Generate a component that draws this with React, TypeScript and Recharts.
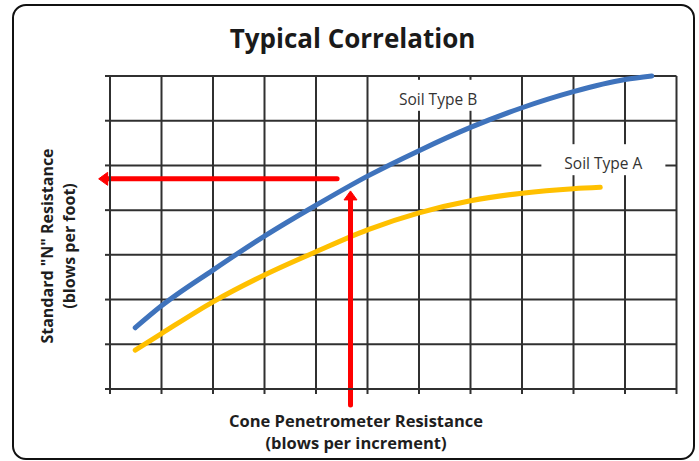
import React from 'react';
import { LineChart, Line, XAxis, YAxis, CartesianGrid, ReferenceLine, ReferenceDot, Label } from 'recharts';

// grid ticks (no numeric labels shown on the original)
const xTicks = [0, 1, 2, 3, 4, 5, 6, 7, 8, 9, 10, 11];
const yTicks = [0, 1, 2, 3, 4, 5, 6, 7];

// Soil Type B (blue)
const soilBX = [0.49, 1.0, 2.0, 3.0, 4.0, 5.0, 6.0, 7.0, 8.0, 9.0, 10.0, 10.52];
const soilBY = [1.37, 1.86, 2.66, 3.42, 4.11, 4.76, 5.33, 5.85, 6.29, 6.65, 6.92, 7.0];

// Soil Type A (yellow)
const soilAX = [0.49, 1.0, 2.0, 3.0, 4.0, 5.0, 6.0, 7.0, 8.0, 9.0, 9.52];
const soilAY = [0.87, 1.24, 1.95, 2.55, 3.07, 3.56, 3.94, 4.21, 4.38, 4.48, 4.51];

// series labels and where they sit
const labelTexts = ['Soil Type B', 'Soil Type A'];
const labelX = [6.37, 9.58];
const labelY = [6.49, 5.05];

// red arrows: [tail, tip]
const arrowHX = [4.41, -0.22];
const arrowHY = [4.7, 4.7];
const arrowVX = [4.67, 4.67];
const arrowVY = [-0.36, 4.43];

const title = 'Typical Correlation';
const xTitle = ['Cone Penetrometer Resistance', '(blows per increment)'];
const yTitle = ['Standard "N" Resistance', '(blows per foot)'];

const blueData = soilBX.map((x, i) => ({ x, y: soilBY[i] }));
const yellowData = soilAX.map((x, i) => ({ x, y: soilAY[i] }));

const GRID = '#303030';
const FONT = '"Open Sans", sans-serif';

const EmptyTick = () => <g />;

const Arrow = (p: any) => {
  const { x1, y1, x2, y2 } = p;
  const dx = x2 - x1;
  const dy = y2 - y1;
  const len = Math.hypot(dx, dy) || 1;
  const ux = dx / len;
  const uy = dy / len;
  const hl = 9;
  const hw = 6.5;
  const bx = x2 - ux * hl;
  const by = y2 - uy * hl;
  const px = -uy;
  const py = ux;
  return (
    <g>
      <line x1={x1} y1={y1} x2={bx + ux} y2={by + uy} stroke="#ff0000" strokeWidth={5} strokeLinecap="round" />
      <polygon
        points={`${x2},${y2} ${bx + px * hw},${by + py * hw} ${bx - px * hw},${by - py * hw}`}
        fill="#ff0000"
        stroke="#ff0000"
        strokeWidth={1}
        strokeLinejoin="round"
      />
    </g>
  );
};

const makeSoilLabel = (text: string) => (p: any) => {
  const { cx, cy } = p;
  return (
    <g>
      <rect x={cx - 62} y={cy - 19} width={124} height={31} fill="#ffffff" />
      <text x={cx} y={cy + 6} textAnchor="middle" fontFamily={FONT} fontSize={15.5} fill="#333333">
        {text}
      </text>
    </g>
  );
};

const XTitle = (props: any) => {
  const vb = props.viewBox || { x: 110, y: 389 };
  const cx = vb.x + 246;
  return (
    <g>
      <text x={cx} y={vb.y + 38} textAnchor="middle" fontFamily={FONT} fontWeight={700} fontSize={16.5} fill="#1e1e1e">
        {xTitle[0]}
      </text>
      <text x={cx} y={vb.y + 60} textAnchor="middle" fontFamily={FONT} fontWeight={700} fontSize={16.5} fill="#1e1e1e">
        {xTitle[1]}
      </text>
    </g>
  );
};

const YTitle = (props: any) => {
  const vb = props.viewBox || { x: 0, y: 76 };
  const cy = vb.y + 170;
  const x1 = vb.x + 53;
  const x2 = vb.x + 75;
  return (
    <g>
      <text x={x1} y={cy} transform={`rotate(-90, ${x1}, ${cy})`} textAnchor="middle" fontFamily={FONT} fontWeight={700} fontSize={16} fill="#1e1e1e">
        {yTitle[0]}
      </text>
      <text x={x2} y={cy} transform={`rotate(-90, ${x2}, ${cy})`} textAnchor="middle" fontFamily={FONT} fontWeight={700} fontSize={16} fill="#1e1e1e">
        {yTitle[1]}
      </text>
    </g>
  );
};

export default function App() {
  return (
    <div style={{ position: 'absolute', left: 0, top: 0, width: 699, height: 461, background: '#ffffff', overflow: 'hidden' }}>
      <div
        style={{
          position: 'absolute',
          left: 12,
          top: 4,
          width: 683,
          height: 456,
          boxSizing: 'border-box',
          border: '2.5px solid #111111',
          borderRadius: 14,
        }}
      />
      <div
        style={{
          position: 'absolute',
          left: 0,
          top: 20,
          width: 705,
          textAlign: 'center',
          fontFamily: FONT,
          fontWeight: 700,
          fontSize: 26,
          lineHeight: '36px',
          color: '#1a1a1a',
        }}
      >
        {title}
      </div>
      <div style={{ position: 'absolute', left: 0, top: 0 }}>
        <LineChart width={699} height={461} margin={{ top: 76, right: 22.5, bottom: 0, left: 0 }}>
          <CartesianGrid stroke={GRID} strokeWidth={2} />
          <XAxis
            type="number"
            dataKey="x"
            domain={[0, 11]}
            ticks={xTicks}
            height={72}
            tick={EmptyTick}
            tickSize={5}
            tickLine={{ stroke: GRID, strokeWidth: 2 }}
            axisLine={{ stroke: GRID, strokeWidth: 2 }}
          >
            <Label content={XTitle} />
          </XAxis>
          <YAxis
            type="number"
            domain={[0, 7]}
            ticks={yTicks}
            width={110}
            tick={EmptyTick}
            tickSize={5}
            tickLine={{ stroke: GRID, strokeWidth: 2 }}
            axisLine={{ stroke: GRID, strokeWidth: 2 }}
          >
            <Label content={YTitle} />
          </YAxis>
          {labelTexts.map((t, i) => (
            <ReferenceDot key={t} x={labelX[i]} y={labelY[i]} r={10} shape={makeSoilLabel(t)} />
          ))}
          <Line
            data={blueData}
            dataKey="y"
            type="monotone"
            stroke="#3f73bc"
            strokeWidth={5}
            strokeLinecap="round"
            dot={false}
            activeDot={false}
            isAnimationActive={false}
          />
          <Line
            data={yellowData}
            dataKey="y"
            type="monotone"
            stroke="#ffc000"
            strokeWidth={5}
            strokeLinecap="round"
            dot={false}
            activeDot={false}
            isAnimationActive={false}
          />
          <ReferenceLine
            segment={[{ x: arrowHX[0], y: arrowHY[0] }, { x: arrowHX[1], y: arrowHY[1] }]}
            ifOverflow="visible"
            shape={Arrow}
          />
          <ReferenceLine
            segment={[{ x: arrowVX[0], y: arrowVY[0] }, { x: arrowVX[1], y: arrowVY[1] }]}
            ifOverflow="visible"
            shape={Arrow}
          />
        </LineChart>
      </div>
    </div>
  );
}
